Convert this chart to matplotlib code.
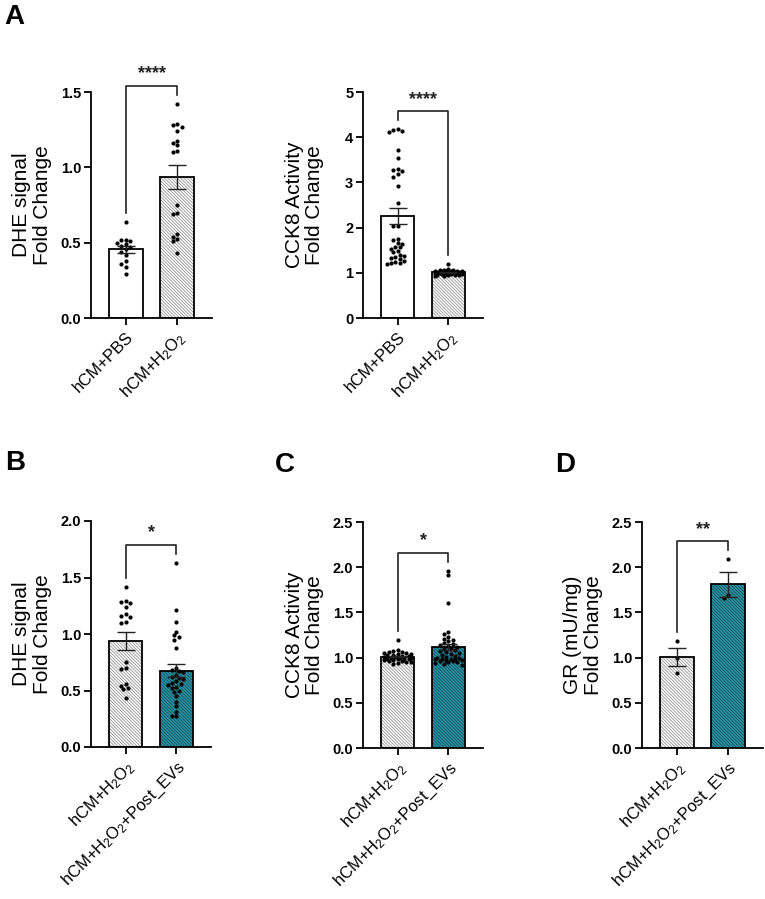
import numpy as np
import matplotlib
matplotlib.use('Agg')
import matplotlib.pyplot as plt
from matplotlib.collections import LineCollection
from matplotlib.transforms import IdentityTransform

plt.rcParams['font.family'] = ['Liberation Sans', 'DejaVu Sans']
plt.rcParams['mathtext.fontset'] = 'custom'
plt.rcParams['mathtext.rm'] = 'Liberation Sans'
plt.rcParams['mathtext.it'] = 'Liberation Sans:italic'
plt.rcParams['mathtext.bf'] = 'Liberation Sans:bold'

# ---- data ----
lab_pbs = 'hCM+PBS'
lab_h2o2 = r'hCM+H$_2$O$_2$'
lab_evs = r'hCM+H$_2$O$_2$+Post_EVs'

dhe_pbs = [0.64, 0.52, 0.52, 0.51, 0.50, 0.49, 0.48, 0.47, 0.46, 0.44,
           0.42, 0.38, 0.36, 0.34, 0.29]
dhe_h2o2 = [1.42, 1.29, 1.28, 1.27, 1.24, 1.175, 1.16, 1.148, 1.108, 1.10,
            0.75, 0.695, 0.69, 0.555, 0.54, 0.525, 0.51, 0.43]
dhe_evs = [1.63, 1.21, 1.11, 1.02, 0.99, 0.97, 0.95, 0.88, 0.70, 0.68,
           0.67, 0.66, 0.64, 0.62, 0.61, 0.60, 0.58, 0.57, 0.56, 0.55,
           0.53, 0.52, 0.50, 0.49, 0.45, 0.40, 0.36, 0.31, 0.27, 0.27]

cck8_pbs = [4.18, 4.16, 4.14, 4.12, 3.72, 3.53, 3.29, 3.27, 3.25, 3.18,
            3.12, 2.91, 2.54, 2.03, 2.03, 1.75, 1.72, 1.66, 1.64, 1.58,
            1.56, 1.53, 1.48, 1.45, 1.40, 1.38, 1.35, 1.32, 1.30, 1.27,
            1.25, 1.22, 1.21, 1.20]
cck8_h2o2 = [1.19, 1.08, 1.07, 1.06, 1.06, 1.05, 1.05, 1.04, 1.04, 1.03,
             1.03, 1.02, 1.02, 1.01, 1.01, 1.00, 1.00, 1.00, 0.99, 0.99,
             0.98, 0.98, 0.97, 0.97, 0.96, 0.96, 0.95, 0.95, 0.94, 0.93]
cck8_evs = [1.96, 1.91, 1.60, 1.28, 1.26, 1.23, 1.21, 1.20, 1.18, 1.16,
            1.15, 1.14, 1.13, 1.12, 1.10, 1.09, 1.08, 1.07, 1.06, 1.05,
            1.04, 1.03, 1.02, 1.01, 1.00, 1.00, 0.99, 0.99, 0.98, 0.98,
            0.97, 0.97, 0.96, 0.96, 0.95, 0.95, 0.94, 0.93, 0.92]

gr_h2o2 = [1.18, 1.00, 0.83]
gr_evs = [2.09, 1.69, 1.66]

# ---- styles ----
W, H = 765, 899
WHITE = dict(face='white', hcol=None)
GRAY = dict(face='white', hcol='#8a8a8a')
TEAL = dict(face='#2a97a8', hcol='#0f4650')

fig = plt.figure(figsize=(W / 100, H / 100), dpi=100)


def px_axes(left, width, bottom, top):
    return fig.add_axes([left / W, 1 - bottom / H, width / W, (bottom - top) / H])


def hatch_bar(ax, patch, color, spacing=3.2, lw=0.75):
    # diagonal "\" lines in pixel space, clipped to the bar
    (x0, y0), (x1, y1) = ax.transData.transform(
        [(patch.get_x(), patch.get_y()),
         (patch.get_x() + patch.get_width(), patch.get_y() + patch.get_height())])
    h = y1 - y0
    segs = [[(c, y1), (c + h, y0)] for c in np.arange(x0 - h, x1 + spacing, spacing)]
    lc = LineCollection(segs, colors=color, linewidths=lw * 72 / 100,
                        transform=IdentityTransform(), zorder=1.5)
    ax.add_collection(lc, autolim=False)
    lc.set_clip_path(patch)


def swarm(ax, xc, vals, d=4.4, maxoff=15):
    pts = ax.transData.transform(np.column_stack([np.full(len(vals), xc), vals]))
    ypx = pts[:, 1]
    sx = ax.transData.transform([(1, 0)])[0, 0] - ax.transData.transform([(0, 0)])[0, 0]
    offs = np.zeros(len(vals))
    placed = []
    steps = [0.0]
    k = 1
    while k * d * 0.5 <= maxoff:
        steps += [-k * d * 0.5, k * d * 0.5]
        k += 1
    for i in np.argsort(vals)[::-1]:
        best, bestd = 0.0, -1
        for off in steps:
            md = min([(off - px) ** 2 + (ypx[i] - py) ** 2 for px, py in placed] or [1e9])
            if md >= d * d * 0.8:
                best = off
                break
            if md > bestd:
                best, bestd = off, md
        offs[i] = best
        placed.append((best, ypx[i]))
    return xc + offs / sx


def panel(ax, wpx, groups, styles, labels, ymax, ystep, ylabel, stars):
    ax.set_xlim(-0.68, 1.68)
    ax.set_ylim(0, ymax)
    bw = 0.65
    for i, (vals, st) in enumerate(zip(groups, styles)):
        vals = np.array(vals)
        m = vals.mean()
        sem = vals.std(ddof=1) / np.sqrt(len(vals))
        bars = ax.bar(i, m, width=bw, color=st['face'], linewidth=0, zorder=1)
        if st['hcol']:
            hatch_bar(ax, bars[0], st['hcol'])
        ax.bar(i, m, width=bw, fill=False, edgecolor='black', linewidth=1.3, zorder=2)
        xs = swarm(ax, i, vals)
        ax.scatter(xs, vals, s=9, color='black', linewidths=0, zorder=3, clip_on=False)
        ax.errorbar(i, m, yerr=sem, color='#222222', elinewidth=1.0, capsize=6.5,
                    capthick=1.0, zorder=4)
    # significance bracket
    gap = 0.04 * ymax
    legs = [max(g) + gap for g in groups]
    top = max(legs) + gap
    ax.plot([0, 0, 1, 1], [legs[0], top, top, legs[1]], color='#222222', lw=1.2,
            clip_on=False, zorder=5)
    ax.text(0.5, top + 0.015 * ymax, stars, ha='center', va='bottom', fontsize=13,
            fontweight='bold', color='#222222', clip_on=False)

    for s in ['top', 'right']:
        ax.spines[s].set_visible(False)
    for s in ['left', 'bottom']:
        ax.spines[s].set_linewidth(1.3)
    ax.set_yticks(np.arange(0, ymax + 1e-9, ystep))
    ax.yaxis.set_major_formatter(matplotlib.ticker.FormatStrFormatter(
        '%.1f' if ystep < 1 else '%d'))
    ax.tick_params(axis='y', length=5, width=1.3, labelsize=10.5, pad=2)
    ax.tick_params(axis='x', length=5, width=1.3, labelsize=12, pad=3)
    for t in ax.get_yticklabels():
        t.set_fontweight('bold')
    ax.set_xticks([0, 1])
    ax.set_xticklabels(labels, rotation=45, ha='right', rotation_mode='anchor')
    ax.set_ylabel(ylabel, fontsize=15, linespacing=1.1)
    ax.yaxis.set_label_coords(-39 / wpx, 0.5)


ax1 = px_axes(91, 121, 318, 92)
panel(ax1, 121, [dhe_pbs, dhe_h2o2], [WHITE, GRAY], [lab_pbs, lab_h2o2], 1.5, 0.5,
      'DHE signal\nFold Change', '****')

ax2 = px_axes(363, 120, 318, 92)
panel(ax2, 120, [cck8_pbs, cck8_h2o2], [WHITE, GRAY], [lab_pbs, lab_h2o2], 5, 1,
      'CCK8 Activity\nFold Change', '****')

ax3 = px_axes(91, 120, 747, 521)
panel(ax3, 120, [dhe_h2o2, dhe_evs], [GRAY, TEAL], [lab_h2o2, lab_evs], 2.0, 0.5,
      'DHE signal\nFold Change', '*')

ax4 = px_axes(363, 120, 748, 522)
panel(ax4, 120, [cck8_h2o2, cck8_evs], [GRAY, TEAL], [lab_h2o2, lab_evs], 2.5, 0.5,
      'CCK8 Activity\nFold Change', '*')

ax5 = px_axes(642, 121, 748, 522)
panel(ax5, 121, [gr_h2o2, gr_evs], [GRAY, TEAL], [lab_h2o2, lab_evs], 2.5, 0.5,
      'GR (mU/mg)\nFold Change', '**')

for letter, x, y in [('A', 4, 4), ('B', 5, 450), ('C', 275, 452), ('D', 555, 452)]:
    fig.text(x / W, 1 - y / H, letter, fontsize=20, fontweight='bold', va='top', ha='left')

fig.savefig('out.png', dpi=100)
